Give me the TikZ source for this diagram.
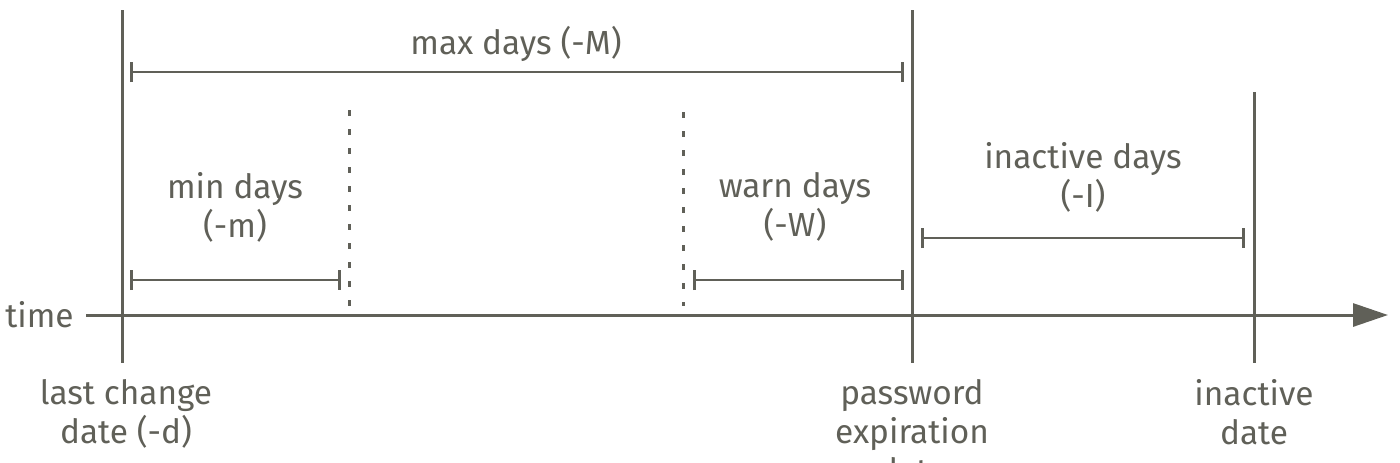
\documentclass[tikz,border=0pt]{standalone}
\usepackage{fontspec}
\setmainfont{Fira Sans}
\usetikzlibrary{arrows.meta}
\definecolor{ink}{RGB}{96,96,88}
\begin{document}
\begin{tikzpicture}[x=0.5pt,y=-0.5pt,
  line/.style={draw=ink,line width=1.5pt},
  dotline/.style={draw=ink,line width=1.5pt,dash pattern=on 3.2pt off 6.3pt},
  span/.style={draw=ink,line width=1.3pt,{Bar[width=10pt,line width=1.3pt]}-{Bar[width=10pt,line width=1.3pt]}},
  lbl/.style={text=ink,font=\fontsize{16.7}{19.5}\selectfont,align=center,inner sep=0pt}]
\useasboundingbox (0,0) rectangle (1400,462);
\clip (0,0) rectangle (1400,462);
% main verticals
\coordinate (d0) at (122,10); \coordinate (d1) at (122,363);
\coordinate (e0) at (912,10); \coordinate (e1) at (912,363);
\coordinate (i0) at (1254,92); \coordinate (i1) at (1254,363);
\draw[line] (d0) -- (d1);
\draw[line] (e0) -- (e1);
\draw[line] (i0) -- (i1);
% time axis
\node[lbl,anchor=east] (time) at (74,315) {time};
\coordinate (tend) at (1388,315);
\draw[line,-{Triangle[length=17.5pt,width=11.5pt]}] (time.east) ++(12,0) coordinate (tstart) -- (tend);
% dotted
\coordinate (m0) at (349,110); \coordinate (m1) at (349,306);
\coordinate (w0) at (683,112); \coordinate (w1) at (683,306);
\draw[dotline] (m0) -- (m1);
\draw[dotline] (w0) -- (w1);
% spans
\coordinate (M0) at (130,72); \coordinate (M1) at (904,72);
\draw[span] (M0) -- (M1);
\coordinate (mi0) at (130,280); \coordinate (mi1) at (341,280);
\draw[span] (mi0) -- (mi1);
\coordinate (wa0) at (693,280); \coordinate (wa1) at (904,280);
\draw[span] (wa0) -- (wa1);
\coordinate (in0) at (921,238); \coordinate (in1) at (1245,238);
\draw[span] (in0) -- (in1);
% labels
\node[lbl] (maxl) at (516,44) {max days (-M)};
\node[lbl] (minl) at (235,207) {min days\\(-m)};
\node[lbl] (warnl) at (795,207) {warn days\\(-W)};
\node[lbl] (inal) at (1083,177) {inactive days\\(-I)};
\node[lbl,anchor=north] (lcl) at (126,379) {last change\\date (-d)};
\node[lbl,anchor=north] (pel) at (912,379) {password\\expiration\\date};
\node[lbl,anchor=north] (idl) at (1254,379) {inactive\\date};
\end{tikzpicture}
\end{document}
